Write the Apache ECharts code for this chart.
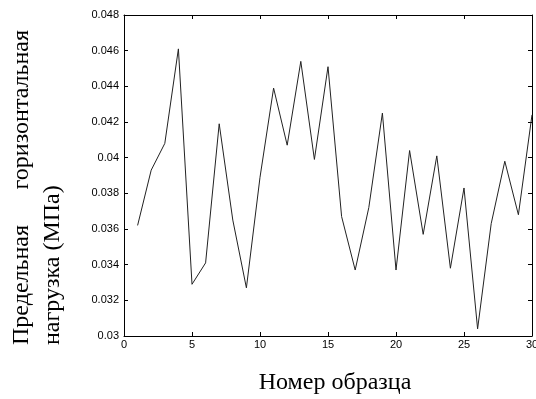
<!DOCTYPE html>
<html>
<head>
<meta charset="utf-8">
<script src="https://cdn.jsdelivr.net/npm/echarts@6/dist/echarts.min.js"></script>
<style>
  html, body { margin: 0; padding: 0; background: #fff; }
  #chart { width: 536px; height: 399px; }
</style>
</head>
<body>
<div id="chart"></div>
<script>
// номер образца
var samples = [1,2,3,4,5,6,7,8,9,10,11,12,13,14,15,16,17,18,19,20,21,22,23,24,25,26,27,28,29,30]
// предельная нагрузка, МПа
var loads = [0.0362,0.0393,0.0408,0.0461,0.0329,0.0341,0.0419,0.0365,0.0327,0.0389,
             0.0439,0.0407,0.0454,0.0399,0.0451,0.0367,0.0337,0.0372,0.0425,0.0337,
             0.0404,0.0357,0.0401,0.0338,0.0383,0.0304,0.0363,0.0398,0.0368,0.0424]

var xTitle = 'Номер образца'
var yTitle1a = 'Предельная'
var yTitle1b = 'горизонтальная'
var yTitle2 = 'нагрузка (МПа)'

var chart = echarts.init(document.getElementById('chart'), null, {renderer: 'canvas'})

var points = []
for (var i = 0; i < samples.length; i++) {
  points.push([samples[i], loads[i]])
}

var tickFont = {color: '#000', fontFamily: 'Liberation Sans', fontSize: 11}
var titleFont = '24px "Liberation Serif"'

var option = {
  backgroundColor: '#fff',
  animation: false,
  grid: {left: 124, right: 4, top: 15, bottom: 63, containLabel: false, outerBoundsMode: 'none'},
  xAxis: [{
    type: 'value', min: 0, max: 30, interval: 5,
    axisLine: {onZero: false, lineStyle: {color: '#000', width: 1}},
    axisTick: {inside: true, length: 4, lineStyle: {color: '#000'}},
    axisLabel: Object.assign({margin: 3}, tickFont),
    splitLine: {show: false}
  }, {
    type: 'value', min: 0, max: 30, interval: 5, position: 'top',
    axisLine: {onZero: false, lineStyle: {color: '#000', width: 1}},
    axisTick: {inside: true, length: 4, lineStyle: {color: '#000'}},
    axisLabel: {show: false},
    splitLine: {show: false}
  }],
  yAxis: [{
    type: 'value', min: 0.03, max: 0.048, interval: 0.002,
    axisLine: {onZero: false, lineStyle: {color: '#000', width: 1}},
    axisTick: {inside: true, length: 4, lineStyle: {color: '#000'}},
    axisLabel: Object.assign({margin: 5, formatter: function (v) { return String(+v.toFixed(3)) }}, tickFont),
    splitLine: {show: false}
  }, {
    type: 'value', min: 0.03, max: 0.048, interval: 0.002, position: 'right',
    axisLine: {onZero: false, lineStyle: {color: '#000', width: 1}},
    axisTick: {inside: true, length: 4, lineStyle: {color: '#000'}},
    axisLabel: {show: false},
    splitLine: {show: false}
  }],
  series: [{
    type: 'line',
    data: points,
    showSymbol: false,
    lineStyle: {color: '#222', width: 1}
  }],
  graphic: [
    {type: 'text', x: 335, y: 383, style: {text: xTitle, font: titleFont, fill: '#000', textAlign: 'center', textVerticalAlign: 'middle'}},
    {type: 'text', x: 22, y: 345, rotation: Math.PI / 2, style: {text: yTitle1a, font: titleFont, fill: '#000', textAlign: 'left', textVerticalAlign: 'middle'}},
    {type: 'text', x: 22, y: 30, rotation: Math.PI / 2, style: {text: yTitle1b, font: titleFont, fill: '#000', textAlign: 'right', textVerticalAlign: 'middle'}},
    {type: 'text', x: 53, y: 345, rotation: Math.PI / 2, style: {text: yTitle2, font: titleFont, fill: '#000', textAlign: 'left', textVerticalAlign: 'middle'}}
  ]
}
chart.setOption(option)
</script>
</body>
</html>
